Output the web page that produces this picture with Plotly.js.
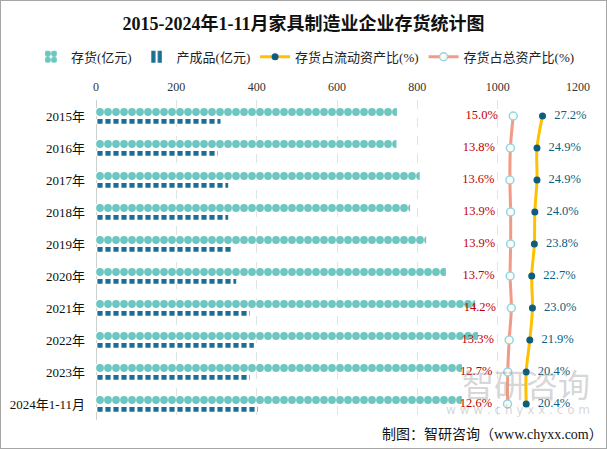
<!DOCTYPE html>
<html>
<head>
<meta charset="utf-8">
<script src="https://cdn.plot.ly/plotly-3.0.1.min.js"></script>
<style>
html,body{margin:0;padding:0;background:#fff;}
#chart{width:607px;height:449px;box-sizing:border-box;border:1px solid #a6a6a6;}
</style>
</head>
<body>
<div id="chart"></div>
<script>
var categories = ["2015年","2016年","2017年","2018年","2019年","2020年","2021年","2022年","2023年","2024年1-11月"];
var inventory = [749, 748, 806, 782, 822, 871, 944, 951, 911, 911];
var finishedGoods = [310, 303, 329, 329, 339, 349, 383, 393, 383, 403];
var ratioCurrent = [27.2, 24.9, 24.9, 24.0, 23.8, 22.7, 23.0, 21.9, 20.4, 20.4];
var ratioTotal = [15.0, 13.8, 13.6, 13.9, 13.9, 13.7, 14.2, 13.3, 12.7, 12.6];

var FONT = "'Liberation Serif', 'Noto Sans CJK SC', serif";
var NB = '\u00a0';

var traces = [
  {
    type: 'bar', orientation: 'h', name: '存货(亿元)', legend: 'legend',
    x: inventory, y: categories,
    offset: -0.25, width: 0.25,
    marker: {color: '#ffffff', line: {width: 0},
      pattern: {shape: '.', fgcolor: '#6dc6bf', bgcolor: '#ffffff', size: 8, solidity: 0.74}},
    hoverinfo: 'x+y'
  },
  {
    type: 'bar', orientation: 'h', name: '产成品(亿元)', legend: 'legend',
    x: finishedGoods, y: categories,
    offset: 0.09, width: 0.15,
    marker: {color: '#ffffff', line: {width: 0},
      pattern: {shape: '|', fgcolor: '#1b6f93', bgcolor: '#ffffff', size: 8, solidity: 0.65}},
    hoverinfo: 'x+y'
  },
  {
    type: 'scatter', name: '存货占流动资产比(%)', legend: 'legend2',
    x: ratioCurrent, y: categories, xaxis: 'x2',
    mode: 'lines+markers+text',
    line: {color: '#ffc000', width: 3, shape: 'spline'},
    marker: {color: '#0d5d80', size: 7},
    text: ratioCurrent.map(function(v){ return NB + NB + v.toFixed(1) + '%'; }),
    textposition: 'middle right',
    textfont: {family: FONT, size: 12.5, color: '#0b5f80'},
    cliponaxis: false
  },
  {
    type: 'scatter', name: '存货占总资产比(%)', legend: 'legend2',
    x: ratioTotal, y: categories, xaxis: 'x2',
    mode: 'lines+markers+text',
    line: {color: '#f29a85', width: 3, shape: 'spline'},
    marker: {color: '#fffbe8', size: 8, line: {color: '#92d4ee', width: 1.5}},
    text: ratioTotal.map(function(v){ return v.toFixed(1) + '%' + NB + NB + NB; }),
    textposition: 'middle left',
    textfont: {family: FONT, size: 12.5, color: '#c00000'},
    cliponaxis: false
  }
];

var legendCommon = {orientation: 'h', yanchor: 'middle', y: 1.135, xanchor: 'left',
  font: {family: FONT, size: 13, color: '#222'}, itemwidth: 30, tracegroupgap: 0, traceorder: 'normal',
  bgcolor: 'rgba(0,0,0,0)'};

var layout = {
  width: 605, height: 447,
  margin: {l: 95, r: 28, t: 99, b: 28},
  paper_bgcolor: '#ffffff', plot_bgcolor: '#ffffff',
  font: {family: FONT, size: 12, color: '#000'},
  title: {text: '<b>2015-2024年1-11月家具制造业企业存货统计图</b>', x: 0.5, xanchor: 'center', y: 0.95, yanchor: 'middle',
    font: {family: FONT, size: 18, color: '#111'}},
  barmode: 'overlay',
  showlegend: true,
  legend: Object.assign({}, legendCommon, {x: -0.135}),
  legend2: Object.assign({}, legendCommon, {x: 0.33}),
  xaxis: {side: 'top', range: [0, 1200], dtick: 200, tick0: 0, ticks: '', showline: false,
    showgrid: true, gridcolor: '#e3e3e3', griddash: 'dash', zeroline: true, zerolinecolor: '#d0d0d0', zerolinewidth: 1,
    ticklabelstandoff: 6,
    tickfont: {family: FONT, size: 12, color: '#333'}, fixedrange: true},
  xaxis2: {overlaying: 'x', side: 'bottom', range: [-159, 42], visible: false, showgrid: false, zeroline: false},
  yaxis: {type: 'category', categoryorder: 'array', categoryarray: categories, range: [categories.length - 0.5, -0.5],
    autorange: false,
    ticks: '', showgrid: false, zeroline: false, showline: false, ticklabelstandoff: 10,
    tickfont: {family: FONT, size: 13, color: '#111'}},
  annotations: [
    {xref: 'paper', yref: 'paper', x: 1.055, y: -0.015, xanchor: 'right', yanchor: 'top', showarrow: false,
      text: '制图：智研咨询（www.chyxx.com）', font: {family: FONT, size: 14, color: '#111'}},
    {xref: 'paper', yref: 'paper', x: 1.03, y: 0.115, xanchor: 'right', yanchor: 'middle', showarrow: false,
      text: '智研咨询', font: {family: "'Noto Sans CJK SC', sans-serif", size: 32, color: 'rgba(150,150,150,0.4)'}},
    {xref: 'paper', yref: 'paper', x: 1.03, y: 0.03, xanchor: 'right', yanchor: 'middle', showarrow: false,
      text: 'w w w . c h y x x . c o m', font: {family: "'DejaVu Sans', sans-serif", size: 12, color: 'rgba(150,150,150,0.4)'}}
  ]
};

Plotly.newPlot('chart', traces, layout, {displayModeBar: false, staticPlot: true});
</script>
</body>
</html>
